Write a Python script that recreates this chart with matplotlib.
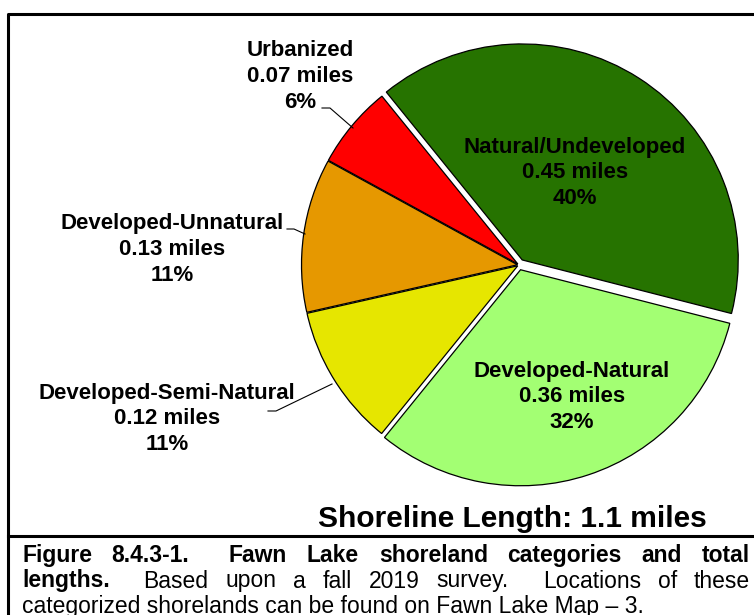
import matplotlib
matplotlib.use('Agg')
import matplotlib.pyplot as plt

plt.rcParams['font.family'] = ['Liberation Sans', 'DejaVu Sans']

# ---------------- data ----------------
categories = ["Natural/Undeveloped", "Developed-Natural", "Developed-Semi-Natural",
              "Developed-Unnatural", "Urbanized"]
miles = [0.45, 0.36, 0.12, 0.13, 0.07]
percents = [40, 32, 11, 11, 6]
colors = ["#267300", "#A3FF73", "#E6E600", "#E69800", "#FF0000"]
total_label = "Shoreline Length: 1.1 miles"
caption_line1 = [("Figure", "bold", 0), ("8.4.3-1.", "bold", 1), ("Fawn", "bold", 2),
                 ("Lake", "bold", 1), ("shoreland", "bold", 1), ("categories", "bold", 1),
                 ("and", "bold", 1), ("total", "bold", 1)]
caption_line2 = [("lengths.", "bold", 0), ("Based", "normal", 2), ("upon", "normal", 1),
                 ("a", "normal", 1), ("fall", "normal", 1), ("2019", "normal", 1),
                 ("survey.", "normal", 1), ("Locations", "normal", 2), ("of", "normal", 1),
                 ("these", "normal", 1)]
caption_line3 = "categorized shorelands can be found on Fawn Lake Map \u2013 3."

# ---------------- layout ----------------
W, H = 754, 615
fig = plt.figure(figsize=(W / 100, H / 100), dpi=100)

# pie axes in pixel coordinates (y up)
axp = fig.add_axes([0, 0, 1, 1])
cx, cy, R = 519, H - 265, 216
explode = [6, 5, 1.5, 1.5, 1.5]   # pixel offsets
wedges, _ = axp.pie(miles, colors=colors, startangle=129, counterclock=False,
                    center=(cx, cy), radius=R, explode=explode, frame=True,
                    wedgeprops=dict(edgecolor='black', linewidth=0.9))
axp.set_xlim(0, W)
axp.set_ylim(0, H)
axp.set_aspect('auto')
axp.axis('off')

# overlay axes in pixel coordinates (y down)
ax = fig.add_axes([0, 0, 1, 1])
ax.set_xlim(0, W)
ax.set_ylim(H, 0)
ax.axis('off')
ax.patch.set_alpha(0)

# frame lines
ax.plot([7.5, 7.5, W], [H, 13.5, 13.5], color='black', lw=2.2, solid_capstyle='projecting')
ax.plot([7.5, W], [536, 536], color='black', lw=2.2)

# slice labels (centre x, first-line baseline y)
label_pos = [(575, 152.5), (572, 376.5), (167, 398.5), (172, 229.5), (300, 56.5)]
line_gap = 25.8
for i, (x, y) in enumerate(label_pos):
    lines = [categories[i], f"{miles[i]:.2f} miles", f"{percents[i]}%"]
    for k, s in enumerate(lines):
        ax.text(x, y + k * line_gap, s, ha='center', va='baseline', fontsize=16,
                fontweight='bold', color='black')

# leader lines
leaders = {
    4: [(322, 108), (330, 108), (353, 128)],
    3: [(287, 229), (294, 229), (305, 234)],
    2: [(268, 411), (276, 411), (332, 384)],
}
for i, pts in leaders.items():
    xs, ys = zip(*pts)
    ax.plot(xs, ys, color='black', lw=0.8)

ax.text(512, 527, total_label, ha='center', va='baseline', fontsize=21.5,
        fontweight='bold', color='black')

# caption with justification
renderer = fig.canvas.get_renderer()
CAP_SIZE = 16.5


def justify(tokens, y, x0, x1, size=CAP_SIZE):
    texts = []
    widths = []
    for word, weight, _ in tokens:
        t = ax.text(0, y, word, fontsize=size, fontweight=weight, ha='left', va='baseline')
        bb = t.get_window_extent(renderer)
        texts.append(t)
        widths.append(bb.width)
    gaps = [g for _, _, g in tokens[1:]]
    free = (x1 - x0) - sum(widths)
    unit = free / sum(gaps)
    x = x0
    for i, t in enumerate(texts):
        t.set_x(x)
        x += widths[i]
        if i + 1 < len(texts):
            x += unit * gaps[i]


justify(caption_line1, 562, 22, 750)
justify(caption_line2, 587.5, 22, 750)
ax.text(22, 613, caption_line3, fontsize=CAP_SIZE, ha='left', va='baseline')

fig.savefig('out.png', dpi=100)
